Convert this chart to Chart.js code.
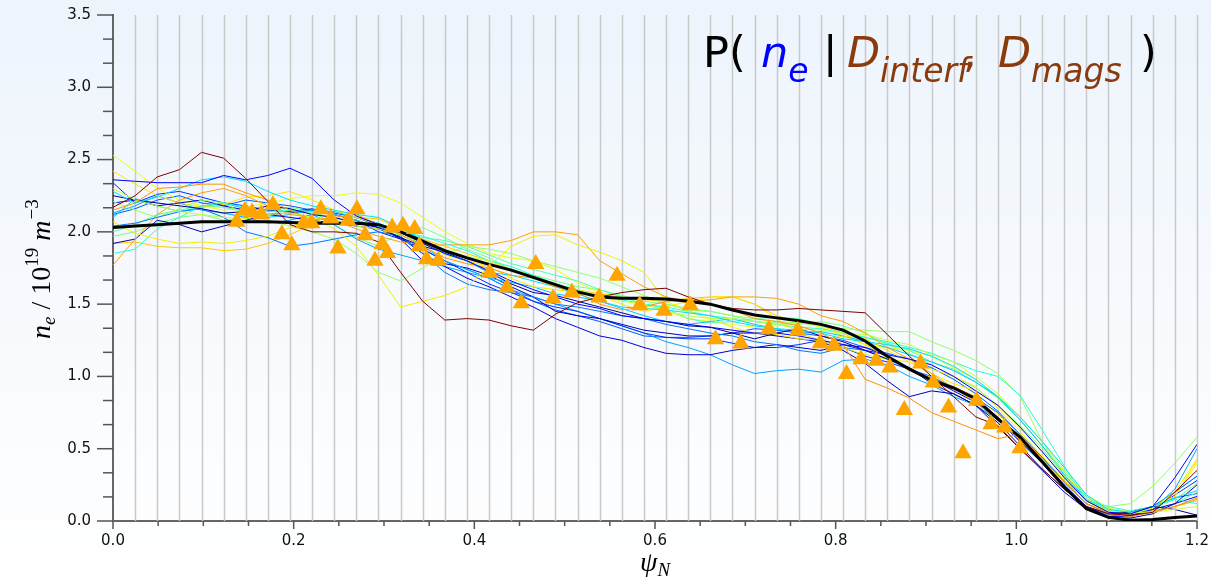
<!DOCTYPE html>
<html>
<head>
<meta charset="utf-8">
<script src="https://cdn.jsdelivr.net/npm/chart.js@4.4.1/dist/chart.umd.min.js"></script>
<style>
  html, body { margin: 0; padding: 0; background: #fff; }
  #wrap { width: 1211px; height: 577px; }
</style>
</head>
<body>
<div id="wrap"><canvas id="profile"></canvas></div>
<script>
// normalised flux grid the profiles are sampled on
const PSI = [
  0, 0.0245, 0.049, 0.0735, 0.098, 0.1224, 0.1469, 0.1714, 0.1959, 0.2204,
  0.2449, 0.2694, 0.2939, 0.3184, 0.3429, 0.3673, 0.3918, 0.4163, 0.4408, 0.4653,
  0.4898, 0.5143, 0.5388, 0.5633, 0.5878, 0.6122, 0.6367, 0.6612, 0.6857, 0.7102,
  0.7347, 0.7592, 0.7837, 0.8082, 0.8327, 0.8571, 0.8816, 0.9061, 0.9306, 0.9551,
  0.9796, 1.0041, 1.0286, 1.0531, 1.0776, 1.102, 1.1265, 1.151, 1.1755, 1.2
];

// posterior mean density
const MEAN_NE = [
  2.03, 2.04, 2.05, 2.06, 2.07, 2.07, 2.07, 2.07, 2.065, 2.06,
  2.06, 2.06, 2.05, 2.00, 1.935, 1.87, 1.82, 1.775, 1.735, 1.685,
  1.635, 1.585, 1.55, 1.54, 1.54, 1.535, 1.52, 1.50, 1.46, 1.425,
  1.405, 1.385, 1.36, 1.32, 1.245, 1.14, 1.05, 0.975, 0.92, 0.845,
  0.705, 0.58, 0.41, 0.235, 0.085, 0.025, 0.005, 0.01, 0.025, 0.035
];

// measured points (interferometer / magnetics inferred)
const MEAS_PSI = [
  0.137, 0.146, 0.154, 0.164, 0.177, 0.187, 0.198, 0.211, 0.220, 0.230,
  0.241, 0.249, 0.260, 0.270, 0.279, 0.290, 0.298, 0.304, 0.309, 0.321,
  0.334, 0.339, 0.347, 0.360, 0.417, 0.436, 0.452, 0.468, 0.487, 0.508,
  0.538, 0.558, 0.583, 0.610, 0.639, 0.667, 0.695, 0.726, 0.758, 0.783,
  0.798, 0.812, 0.828, 0.845, 0.860, 0.876, 0.894, 0.908, 0.925, 0.941,
  0.956, 0.972, 0.987, 1.004
];
const MEAS_NE = [
  2.07, 2.146, 2.134, 2.122, 2.185, 1.984, 1.908, 2.06, 2.06, 2.157,
  2.093, 1.885, 2.077, 2.157, 1.977, 1.80, 1.915, 1.853, 2.03, 2.042,
  2.019, 1.90, 1.811, 1.80, 1.717, 1.615, 1.507, 1.777, 1.539, 1.581,
  1.546, 1.696, 1.493, 1.454, 1.493, 1.258, 1.228, 1.327, 1.316, 1.23,
  1.212, 1.016, 1.119, 1.108, 1.062, 0.767, 1.09, 0.958, 0.785, 0.469,
  0.832, 0.67, 0.647, 0.504
];

// posterior samples
const sample01 = [
  2.17, 2.25, 2.38, 2.43, 2.55, 2.51, 2.37, 2.21, 2.05, 2.00,
  2.00, 1.99, 1.93, 1.72, 1.52, 1.39, 1.40, 1.39, 1.35, 1.32,
  1.43, 1.51, 1.55, 1.58, 1.60, 1.61, 1.55, 1.50, 1.47, 1.46,
  1.46, 1.47, 1.46, 1.45, 1.44, 1.29, 1.14, 1.00, 0.86, 0.72,
  0.66, 0.50, 0.36, 0.22, 0.10, 0.05, 0.04, 0.06, 0.20, 0.35
];
const sample02 = [
  1.77, 1.95, 2.12, 2.22, 2.27, 2.30, 2.25, 2.18, 2.12, 2.10,
  2.08, 2.02, 1.97, 1.93, 1.91, 1.91, 1.91, 1.91, 1.94, 2.00,
  2.00, 1.98, 1.80, 1.71, 1.62, 1.55, 1.52, 1.53, 1.55, 1.55,
  1.54, 1.50, 1.42, 1.38, 1.30, 1.20, 1.12, 1.02, 0.92, 0.82,
  0.70, 0.56, 0.42, 0.28, 0.14, 0.06, 0.05, 0.07, 0.10, 0.15
];
const sample03 = [
  2.15, 2.20, 2.30, 2.31, 2.33, 2.33, 2.27, 2.22, 2.15, 2.08,
  2.10, 2.12, 2.05, 1.98, 1.90, 1.82, 1.78, 1.75, 1.70, 1.68,
  1.62, 1.58, 1.50, 1.46, 1.48, 1.52, 1.53, 1.50, 1.46, 1.40,
  1.38, 1.35, 1.30, 1.22, 0.98, 0.92, 0.85, 0.75, 0.69, 0.63,
  0.57, 0.60, 0.43, 0.27, 0.12, 0.05, 0.03, 0.06, 0.10, 0.16
];
const sample04 = [
  1.92, 1.93, 1.90, 1.89, 1.89, 1.87, 1.88, 1.92, 1.98, 2.05,
  2.08, 2.10, 2.09, 2.02, 1.95, 1.90, 1.85, 1.80, 1.74, 1.68,
  1.62, 1.60, 1.57, 1.55, 1.53, 1.52, 1.54, 1.55, 1.55, 1.50,
  1.42, 1.38, 1.35, 1.30, 1.22, 1.13, 1.05, 0.99, 0.93, 0.86,
  0.74, 0.60, 0.44, 0.26, 0.12, 0.06, 0.04, 0.07, 0.10, 0.14
];
const sample05 = [
  2.07, 1.99, 1.95, 1.92, 1.93, 1.92, 1.94, 1.97, 2.03, 2.10,
  2.02, 1.90, 1.70, 1.48, 1.52, 1.56, 1.62, 1.76, 1.90, 1.97,
  1.98, 1.91, 1.86, 1.80, 1.72, 1.52, 1.45, 1.40, 1.34, 1.30,
  1.29, 1.26, 1.25, 1.20, 1.15, 1.12, 1.10, 1.05, 1.00, 0.93,
  0.78, 0.62, 0.45, 0.28, 0.14, 0.07, 0.05, 0.09, 0.20, 0.43
];
const sample06 = [
  2.53, 2.42, 2.30, 2.22, 2.18, 2.15, 2.17, 2.20, 2.23, 2.25,
  2.25, 2.27, 2.26, 2.20, 2.10, 2.00, 1.92, 1.85, 1.82, 1.80,
  1.74, 1.65, 1.58, 1.55, 1.50, 1.45, 1.40, 1.38, 1.36, 1.34,
  1.35, 1.38, 1.34, 1.28, 1.22, 1.20, 1.18, 1.14, 1.06, 0.98,
  0.85, 0.70, 0.52, 0.33, 0.16, 0.08, 0.06, 0.09, 0.17, 0.40
];
const sample07 = [
  2.42, 2.33, 2.25, 2.20, 2.17, 2.19, 2.24, 2.25, 2.28, 2.22,
  2.15, 2.10, 2.05, 2.00, 1.92, 1.84, 1.80, 1.76, 1.68, 1.62,
  1.60, 1.58, 1.56, 1.50, 1.45, 1.48, 1.52, 1.55, 1.55, 1.50,
  1.40, 1.30, 1.25, 1.28, 1.26, 1.18, 1.10, 1.02, 0.95, 0.90,
  0.80, 0.64, 0.48, 0.30, 0.14, 0.06, 0.07, 0.10, 0.17, 0.42
];
const sample08 = [
  2.30, 2.22, 2.18, 2.14, 2.12, 2.10, 2.09, 2.12, 2.13, 2.10,
  2.08, 2.04, 2.02, 1.98, 1.92, 1.88, 1.83, 1.80, 1.73, 1.68,
  1.63, 1.60, 1.56, 1.52, 1.50, 1.45, 1.42, 1.40, 1.40, 1.38,
  1.36, 1.33, 1.32, 1.30, 1.29, 1.25, 1.22, 1.15, 1.10, 1.00,
  0.88, 0.72, 0.55, 0.35, 0.18, 0.09, 0.06, 0.06, 0.08, 0.10
];
const sample09 = [
  2.21, 2.15, 2.10, 2.16, 2.22, 2.20, 2.12, 2.08, 2.04, 2.00,
  1.95, 1.85, 1.72, 1.66, 1.75, 1.85, 1.90, 1.88, 1.85, 1.80,
  1.76, 1.72, 1.68, 1.62, 1.56, 1.50, 1.46, 1.45, 1.42, 1.40,
  1.38, 1.37, 1.35, 1.33, 1.32, 1.31, 1.31, 1.24, 1.18, 1.11,
  1.02, 0.86, 0.55, 0.30, 0.15, 0.10, 0.12, 0.24, 0.40, 0.58
];
const sample10 = [
  2.00, 2.05, 2.12, 2.15, 2.18, 2.17, 2.14, 2.12, 2.15, 2.13,
  2.10, 2.06, 2.04, 2.00, 1.96, 1.94, 1.90, 1.84, 1.78, 1.74,
  1.70, 1.66, 1.60, 1.55, 1.50, 1.47, 1.40, 1.37, 1.38, 1.40,
  1.41, 1.40, 1.36, 1.31, 1.27, 1.23, 1.18, 1.10, 1.05, 0.96,
  0.85, 0.70, 0.52, 0.34, 0.17, 0.07, 0.06, 0.08, 0.12, 0.20
];
const sample11 = [
  1.97, 2.00, 2.06, 2.10, 2.12, 2.08, 2.10, 2.15, 2.17, 2.14,
  2.05, 1.96, 1.90, 2.00, 2.03, 1.96, 1.88, 1.82, 1.74, 1.70,
  1.66, 1.62, 1.60, 1.56, 1.52, 1.50, 1.47, 1.45, 1.42, 1.38,
  1.37, 1.36, 1.38, 1.35, 1.30, 1.22, 1.16, 1.08, 1.00, 0.92,
  0.80, 0.66, 0.50, 0.31, 0.14, 0.06, 0.05, 0.09, 0.15, 0.26
];
const sample12 = [
  1.85, 1.88, 2.02, 2.10, 2.18, 2.20, 2.17, 2.14, 2.15, 2.14,
  2.12, 2.08, 2.04, 2.00, 1.97, 1.92, 1.87, 1.80, 1.76, 1.70,
  1.64, 1.60, 1.55, 1.53, 1.50, 1.48, 1.45, 1.42, 1.40, 1.38,
  1.36, 1.34, 1.33, 1.30, 1.27, 1.24, 1.20, 1.16, 1.10, 1.04,
  1.00, 0.87, 0.63, 0.38, 0.14, 0.10, 0.07, 0.10, 0.15, 0.12
];
const sample13 = [
  2.28, 2.20, 2.24, 2.30, 2.36, 2.38, 2.35, 2.28, 2.22, 2.18,
  2.15, 2.12, 2.10, 2.03, 1.94, 1.85, 1.80, 1.72, 1.70, 1.66,
  1.62, 1.57, 1.52, 1.48, 1.47, 1.46, 1.44, 1.42, 1.38, 1.35,
  1.33, 1.32, 1.30, 1.26, 1.24, 1.22, 1.19, 1.14, 1.07, 0.98,
  0.86, 0.72, 0.55, 0.37, 0.18, 0.08, 0.06, 0.10, 0.16, 0.21
];
const sample14 = [
  2.10, 2.23, 2.18, 2.14, 2.17, 2.20, 2.16, 2.10, 2.12, 2.15,
  2.14, 2.10, 2.06, 2.00, 1.90, 1.80, 1.74, 1.68, 1.65, 1.62,
  1.57, 1.55, 1.52, 1.47, 1.42, 1.38, 1.36, 1.38, 1.40, 1.36,
  1.33, 1.30, 1.31, 1.28, 1.24, 1.20, 1.15, 1.10, 1.04, 0.96,
  0.86, 0.70, 0.52, 0.32, 0.15, 0.07, 0.05, 0.10, 0.20, 0.31
];
const sample15 = [
  2.13, 2.18, 2.25, 2.20, 2.15, 2.13, 2.10, 2.06, 2.08, 2.12,
  2.05, 1.95, 1.88, 1.84, 1.80, 1.76, 1.72, 1.68, 1.60, 1.55,
  1.50, 1.45, 1.40, 1.35, 1.30, 1.24, 1.20, 1.15, 1.08, 1.02,
  1.04, 1.05, 1.03, 1.11, 1.12, 1.08, 1.00, 0.94, 0.86, 0.80,
  0.70, 0.55, 0.40, 0.24, 0.10, 0.04, 0.04, 0.08, 0.22, 0.50
];
const sample16 = [
  2.04, 2.06, 2.10, 2.14, 2.16, 2.10, 2.00, 1.96, 1.90, 1.92,
  1.95, 1.98, 2.00, 1.97, 1.85, 1.72, 1.64, 1.60, 1.58, 1.55,
  1.50, 1.48, 1.45, 1.42, 1.40, 1.36, 1.33, 1.30, 1.28, 1.24,
  1.22, 1.18, 1.16, 1.20, 1.18, 1.12, 1.05, 1.00, 0.92, 0.85,
  0.75, 0.60, 0.44, 0.27, 0.12, 0.05, 0.06, 0.10, 0.20, 0.31
];
const sample17 = [
  2.36, 2.35, 2.34, 2.34, 2.34, 2.39, 2.36, 2.39, 2.44, 2.37,
  2.22, 2.11, 2.05, 2.00, 1.92, 1.85, 1.80, 1.73, 1.66, 1.60,
  1.55, 1.50, 1.47, 1.42, 1.40, 1.38, 1.36, 1.34, 1.32, 1.30,
  1.30, 1.28, 1.25, 1.22, 1.18, 1.15, 1.12, 1.08, 1.00, 0.90,
  0.80, 0.65, 0.48, 0.30, 0.14, 0.06, 0.05, 0.10, 0.30, 0.53
];
const sample18 = [
  2.34, 2.20, 2.26, 2.28, 2.24, 2.20, 2.18, 2.15, 2.14, 2.16,
  2.12, 2.08, 2.00, 1.95, 1.88, 1.80, 1.72, 1.64, 1.58, 1.52,
  1.48, 1.45, 1.40, 1.35, 1.30, 1.27, 1.26, 1.26, 1.23, 1.20,
  1.20, 1.22, 1.25, 1.20, 1.14, 1.10, 1.05, 0.98, 0.92, 0.84,
  0.72, 0.57, 0.42, 0.25, 0.10, 0.03, 0.03, 0.08, 0.18, 0.28
];
const sample19 = [
  2.20, 2.22, 2.18, 2.20, 2.22, 2.18, 2.15, 2.12, 2.10, 2.08,
  2.06, 2.04, 2.02, 1.96, 1.85, 1.76, 1.68, 1.62, 1.55, 1.48,
  1.40, 1.34, 1.28, 1.25, 1.20, 1.16, 1.15, 1.15, 1.18, 1.20,
  1.22, 1.20, 1.18, 1.22, 1.20, 1.14, 1.06, 0.98, 0.90, 0.82,
  0.70, 0.55, 0.40, 0.24, 0.10, 0.03, 0.04, 0.08, 0.12, 0.17
];
const sample20 = [
  2.12, 2.16, 2.22, 2.25, 2.20, 2.18, 2.22, 2.20, 2.18, 2.15,
  2.13, 2.10, 2.04, 1.96, 1.88, 1.80, 1.74, 1.68, 1.60, 1.52,
  1.46, 1.42, 1.38, 1.33, 1.28, 1.27, 1.27, 1.28, 1.30, 1.33,
  1.32, 1.30, 1.28, 1.25, 1.20, 1.16, 1.12, 1.06, 0.98, 0.88,
  0.76, 0.60, 0.44, 0.28, 0.14, 0.06, 0.05, 0.10, 0.16, 0.19
];
const sample21 = [
  2.25, 2.22, 2.20, 2.18, 2.16, 2.13, 2.14, 2.18, 2.16, 2.12,
  2.10, 2.06, 2.03, 1.96, 1.90, 1.86, 1.80, 1.72, 1.64, 1.58,
  1.56, 1.52, 1.48, 1.44, 1.40, 1.38, 1.35, 1.34, 1.30, 1.26,
  1.30, 1.33, 1.28, 1.24, 1.18, 1.12, 1.06, 0.95, 0.88, 0.80,
  0.68, 0.52, 0.36, 0.22, 0.10, 0.05, 0.06, 0.10, 0.08, 0.04
];
const sample22 = [
  1.92, 1.95, 2.08, 2.05, 2.00, 2.04, 2.08, 2.12, 2.13, 2.15,
  2.12, 2.08, 2.03, 1.95, 1.80, 1.78, 1.75, 1.70, 1.62, 1.55,
  1.45, 1.42, 1.40, 1.36, 1.32, 1.30, 1.28, 1.28, 1.30, 1.30,
  1.28, 1.26, 1.24, 1.18, 1.09, 0.97, 0.86, 0.90, 0.88, 0.80,
  0.65, 0.50, 0.35, 0.20, 0.08, 0.02, 0.02, 0.05, 0.12, 0.25
];

const SAMPLES = [
  sample01, sample17, sample03, sample13, sample08, sample21, sample05, sample12,
  sample16, sample02, sample09, sample19, sample07, sample14, sample22, sample10,
  sample06, sample18, sample04, sample15, sample11, sample20
];
const SAMPLE_COLORS = [
  '#800000', '#0000ff', '#ff9400', '#00e0fa', '#c4ff3a', '#000090', '#f0f000', '#26ffd0',
  '#0078ff', '#ffa000', '#94ff63', '#0000dc', '#ffe600', '#00c4ff', '#0000b8', '#50ffa8',
  '#e8ff10', '#0030ff', '#ffc800', '#00a4ff', '#7aff7d', '#0058ff'
];

const X_TICKS = [0, 0.2, 0.4, 0.6, 0.8, 1.0, 1.2];
const Y_TICKS = [0, 0.5, 1.0, 1.5, 2.0, 2.5, 3.0, 3.5];

const BROWN = '#8b3a0b';

const points = (xs, ys) => xs.map((x, i) => ({ x: x, y: ys[i] }));

// light blue wash behind everything
const backdrop = {
  id: 'backdrop',
  beforeDraw(chart) {
    const { ctx, width, height } = chart;
    const g = ctx.createLinearGradient(0, 0, 0, height);
    g.addColorStop(0, '#edf4fc');
    g.addColorStop(1, '#ffffff');
    ctx.save();
    ctx.fillStyle = g;
    ctx.fillRect(0, 0, width, height);
    ctx.restore();
  }
};

// vertical lines at every grid node
const nodeLines = {
  id: 'nodeLines',
  beforeDatasetsDraw(chart) {
    const { ctx, chartArea: a, scales: { x } } = chart;
    ctx.save();
    ctx.strokeStyle = '#c9c9c9';
    ctx.lineWidth = 1.5;
    for (let i = 1; i < PSI.length; i++) {
      const px = Math.round(x.getPixelForValue(PSI[i])) + 0.5;
      ctx.beginPath();
      ctx.moveTo(px, a.top);
      ctx.lineTo(px, a.bottom);
      ctx.stroke();
    }
    ctx.restore();
  }
};

// major + minor tick marks
const tickMarks = {
  id: 'tickMarks',
  afterDraw(chart) {
    const { ctx, chartArea: a, scales: { x, y } } = chart;
    ctx.save();
    ctx.strokeStyle = '#555';
    ctx.lineWidth = 1.5;
    const seg = (x0, y0, x1, y1) => {
      ctx.beginPath(); ctx.moveTo(x0, y0); ctx.lineTo(x1, y1); ctx.stroke();
    };
    for (let k = 0; k <= 21; k++) {
      const py = y.getPixelForValue(k / 6);
      seg(a.left - (k % 3 === 0 ? 16 : 10), py, a.left, py);
    }
    for (let k = 0; k <= 24; k++) {
      const px = x.getPixelForValue(k * 0.05);
      seg(px, a.bottom, px, a.bottom + (k % 4 === 0 ? 8 : 5));
    }
    ctx.restore();
  }
};

function drawText(ctx, txt, x, y, font, color) {
  ctx.font = font;
  ctx.fillStyle = color;
  ctx.fillText(txt, x, y);
  return ctx.measureText(txt).width;
}

// title and axis labels
const labels = {
  id: 'labels',
  afterDraw(chart) {
    const ctx = chart.ctx;
    ctx.save();
    ctx.textBaseline = 'alphabetic';
    ctx.textAlign = 'left';
    const big = '43px "DejaVu Sans"';
    const bigIt = 'italic 43px "DejaVu Sans"';
    const subIt = 'italic 33px "DejaVu Sans"';
    drawText(ctx, 'P(', 703, 67, big, '#000');
    let w = drawText(ctx, 'n', 761, 67, bigIt, '#0000ff');
    drawText(ctx, 'e', 761 + w, 82, subIt, '#0000ff');
    drawText(ctx, '|', 823, 67, big, '#000');
    w = drawText(ctx, 'D', 847, 67, bigIt, BROWN);
    drawText(ctx, 'interf', 847 + w, 82, subIt, BROWN);
    drawText(ctx, ',', 963, 67, big, BROWN);
    w = drawText(ctx, 'D', 998, 67, bigIt, BROWN);
    drawText(ctx, 'mags', 998 + w, 82, subIt, BROWN);
    drawText(ctx, ')', 1140, 67, big, '#000');

    // x axis label
    const serIt = 'italic 28px "Liberation Serif"';
    const serItS = 'italic 19px "Liberation Serif"';
    const ser = '28px "Liberation Serif"';
    const serS = '19px "Liberation Serif"';
    w = drawText(ctx, 'ψ', 640, 571, serIt, '#000');
    drawText(ctx, 'N', 640 + w, 576, serItS, '#000');

    // y axis label, rotated
    ctx.translate(50, 339);
    ctx.rotate(-Math.PI / 2);
    let cx = 0;
    cx += drawText(ctx, 'n', cx, 0, serIt, '#000');
    cx += drawText(ctx, 'e', cx, 5, serItS, '#000');
    cx += drawText(ctx, ' / 10', cx, 0, ser, '#000');
    cx += drawText(ctx, '19', cx, -12, serS, '#000');
    cx += drawText(ctx, ' m', cx, 0, serIt, '#000');
    drawText(ctx, '\u22123', cx + 1, -12, serS, '#000');
    ctx.restore();
  }
};

const datasets = [
  {
    type: 'scatter',
    data: points(MEAS_PSI, MEAS_NE),
    pointStyle: 'triangle',
    pointRadius: 10,
    backgroundColor: '#ffa500',
    borderWidth: 0,
    showLine: false
  },
  {
    type: 'line',
    data: points(PSI, MEAN_NE),
    borderColor: '#000',
    borderWidth: 3,
    pointRadius: 0,
    tension: 0
  }
];
SAMPLES.forEach((s, i) => {
  datasets.push({
    type: 'line',
    data: points(PSI, s),
    borderColor: SAMPLE_COLORS[i],
    borderWidth: 1,
    pointRadius: 0,
    tension: 0
  });
});

const tickFont = { family: 'DejaVu Sans', size: 15 };
const hidden = 'rgba(0,0,0,0)';

new Chart(document.getElementById('profile'), {
  type: 'line',
  data: { datasets: datasets },
  plugins: [backdrop, nodeLines, tickMarks, labels],
  options: {
    responsive: true,
    maintainAspectRatio: false,
    devicePixelRatio: 1,
    animation: false,
    events: [],
    layout: { autoPadding: false, padding: { top: 15, right: 14, left: 0, bottom: 0 } },
    plugins: { legend: { display: false }, tooltip: { enabled: false } },
    scales: {
      x: {
        type: 'linear',
        min: 0,
        max: 1.2,
        afterBuildTicks: (s) => { s.ticks = X_TICKS.map(v => ({ value: v })); },
        afterFit: (s) => { s.height = 56; },
        ticks: {
          callback: (v) => Number(v).toFixed(1),
          font: tickFont,
          color: '#111',
          padding: 1,
          maxRotation: 0,
          autoSkip: false
        },
        grid: { drawOnChartArea: false, drawTicks: true, tickLength: 10, tickColor: hidden },
        border: { color: '#666', width: 2 }
      },
      y: {
        type: 'linear',
        min: 0,
        max: 3.5,
        afterBuildTicks: (s) => { s.ticks = Y_TICKS.map(v => ({ value: v })); },
        afterFit: (s) => { s.width = 113; },
        ticks: {
          callback: (v) => Number(v).toFixed(1),
          font: tickFont,
          color: '#111',
          padding: 6
        },
        grid: { drawOnChartArea: false, drawTicks: true, tickLength: 16, tickColor: hidden },
        border: { color: '#666', width: 2 }
      }
    }
  }
});
</script>
</body>
</html>
